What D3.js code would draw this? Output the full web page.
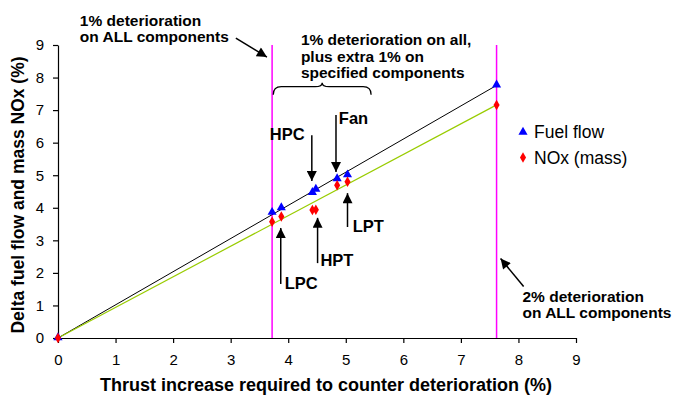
<!DOCTYPE html>
<html>
<head>
<meta charset="utf-8">
<script src="https://cdn.jsdelivr.net/npm/d3@7"></script>
<style>
  body { margin: 0; background: #fff; }
  svg { font-family: Arial, "Liberation Sans", sans-serif; }
</style>
</head>
<body>
<div id="chart"></div>
<script>
// thrust increase (%) for each deterioration case: none, 1% all, LPC, HPC (x2), Fan, LPT, 2% all
var thrust   = [0, 3.72, 3.88, 4.42, 4.48, 4.85, 5.03, 7.62];
var fuelFlow = [0, 3.85, 3.99, 4.46, 4.56, 4.88, 5.00, 7.76];
var noxMass  = [0, 3.57, 3.73, 3.93, 3.94, 4.69, 4.80, 7.16];
var xTicks = [0, 1, 2, 3, 4, 5, 6, 7, 8, 9];
var yTicks = [0, 1, 2, 3, 4, 5, 6, 7, 8, 9];
var deterioration = [3.72, 7.62];
var seriesNames = ['Fuel flow', 'NOx (mass)'];

var width = 676, height = 398;

var svg = d3.select('#chart')
  .append('svg')
  .attr('width', width)
  .attr('height', height);

var x = d3.scaleLinear().domain([0, 9]).range([58, 576]);
var y = d3.scaleLinear().domain([0, 9]).range([338, 45]);

// axes
var xAxis = d3.axisBottom(x).tickValues(xTicks).tickSize(5).tickSizeOuter(0).tickPadding(11);
var yAxis = d3.axisLeft(y).tickValues(yTicks).tickSize(5).tickSizeOuter(0).tickPadding(9);

var hRuler = svg.append('g').attr('transform', 'translate(0,338)').call(xAxis);
var vRuler = svg.append('g').attr('transform', 'translate(58,0)').call(yAxis);

[hRuler, vRuler].forEach(function(g){
  g.selectAll('path, line').attr('stroke', '#000').attr('stroke-width', 1.2);
  g.selectAll('text').attr('font-size', '15px').attr('fill', '#000');
  g.attr('font-family', null);
});

// magenta deterioration markers
svg.append('g')
  .selectAll('line')
  .data(deterioration)
  .enter()
  .append('line')
  .attr('x1', function(d){ return x(d); })
  .attr('x2', function(d){ return x(d); })
  .attr('y1', y(9))
  .attr('y2', y(0))
  .attr('stroke', '#f0f')
  .attr('stroke-width', 1.5);

// straight trend lines from origin to the 2% case
var fuelPts = thrust.map(function(t, i){ return [t, fuelFlow[i]]; });
var noxPts = thrust.map(function(t, i){ return [t, noxMass[i]]; });
var line = d3.line().x(function(d){ return x(d[0]); }).y(function(d){ return y(d[1]); });

svg.append('path')
  .datum([fuelPts[0], fuelPts[fuelPts.length - 1]])
  .attr('d', line)
  .attr('fill', 'none')
  .attr('stroke', '#000')
  .attr('stroke-width', 1);

svg.append('path')
  .datum([noxPts[0], noxPts[noxPts.length - 1]])
  .attr('d', line)
  .attr('fill', 'none')
  .attr('stroke', '#99cc00')
  .attr('stroke-width', 1.2);

var tri = d3.symbol().type(d3.symbolTriangle).size(36);
var dia = d3.symbol().type(d3.symbolDiamond).size(32);

svg.append('g')
  .selectAll('path')
  .data(fuelPts)
  .enter()
  .append('path')
  .attr('d', tri)
  .attr('transform', function(d){ return 'translate(' + x(d[0]) + ',' + (y(d[1]) - 0.5) + ')'; })
  .attr('fill', '#0000ff');

svg.append('g')
  .selectAll('path')
  .data(noxPts)
  .enter()
  .append('path')
  .attr('d', dia)
  .attr('transform', function(d){ return 'translate(' + x(d[0]) + ',' + y(d[1]) + ')'; })
  .attr('fill', '#ff0000');

// legend
var legend = svg.append('g').attr('transform', 'translate(523,132)');
legend.selectAll('path')
  .data(seriesNames)
  .enter()
  .append('path')
  .attr('d', function(d, i){ return i == 0 ? tri() : dia(); })
  .attr('transform', function(d, i){ return 'translate(0,' + (i * 25.5) + ')'; })
  .attr('fill', function(d, i){ return i == 0 ? '#0000ff' : '#ff0000'; });
legend.selectAll('text')
  .data(seriesNames)
  .enter()
  .append('text')
  .attr('x', 11)
  .attr('y', function(d, i){ return i * 25.5 + 6; })
  .attr('font-size', '17.5px')
  .text(function(d){ return d; });

// axis titles
svg.append('text')
  .attr('x', 326)
  .attr('y', 391)
  .attr('text-anchor', 'middle')
  .attr('font-weight', 'bold')
  .attr('font-size', '18px')
  .text('Thrust increase required to counter deterioration (%)');

svg.append('text')
  .attr('transform', 'translate(24,195) rotate(-90)')
  .attr('text-anchor', 'middle')
  .attr('font-weight', 'bold')
  .attr('font-size', '17.5px')
  .text('Delta fuel flow and mass NOx (%)');

// annotations
svg.append('defs').append('marker')
  .attr('id', 'head')
  .attr('viewBox', '0 0 10 10')
  .attr('refX', 10)
  .attr('refY', 5)
  .attr('markerWidth', 12)
  .attr('markerHeight', 10)
  .attr('markerUnits', 'userSpaceOnUse')
  .attr('orient', 'auto')
  .append('path')
  .attr('d', 'M0,0L10,5L0,10Z')
  .attr('fill', '#000');

var arrows = [
  [[3.09, 9.21], [3.63, 8.63]],
  [[4.41, 6.23], [4.41, 4.82]],
  [[4.83, 6.85], [4.83, 5.10]],
  [[5.03, 3.41], [5.03, 4.45]],
  [[4.51, 2.30], [4.51, 3.69]],
  [[3.87, 1.66], [3.87, 3.38]],
  [[8.09, 1.58], [7.69, 2.44]]
];

svg.append('g')
  .selectAll('line')
  .data(arrows)
  .enter()
  .append('line')
  .attr('x1', function(d){ return x(d[0][0]); })
  .attr('y1', function(d){ return y(d[0][1]); })
  .attr('x2', function(d){ return x(d[1][0]); })
  .attr('y2', function(d){ return y(d[1][1]); })
  .attr('stroke', '#000')
  .attr('stroke-width', 1.5)
  .attr('marker-end', 'url(#head)');

var notes = [
  { x: 0.38, y: 9.58, t: '1% deterioration', s: 15.5 },
  { x: 0.38, y: 9.09, t: 'on ALL components', s: 15.5 },
  { x: 4.22, y: 9.00, t: '1% deterioration on all,', s: 15.5 },
  { x: 4.22, y: 8.49, t: 'plus extra 1% on', s: 15.5 },
  { x: 4.22, y: 7.99, t: 'specified components', s: 15.5 },
  { x: 8.07, y: 1.12, t: '2% deterioration', s: 15.5 },
  { x: 8.07, y: 0.62, t: 'on ALL components', s: 15.5 },
  { x: 3.68, y: 6.08, t: 'HPC', s: 16.5 },
  { x: 4.88, y: 6.57, t: 'Fan', s: 16.5 },
  { x: 5.12, y: 3.26, t: 'LPT', s: 16.5 },
  { x: 4.56, y: 2.21, t: 'HPT', s: 16.5 },
  { x: 3.94, y: 1.50, t: 'LPC', s: 16.5 }
];

svg.append('g')
  .selectAll('text')
  .data(notes)
  .enter()
  .append('text')
  .attr('x', function(d){ return x(d.x); })
  .attr('y', function(d){ return y(d.y); })
  .attr('font-weight', 'bold')
  .attr('font-size', function(d){ return d.s + 'px'; })
  .text(function(d){ return d.t; });

// curly brace over the single-component cases
var bx0 = x(3.74), bx1 = x(5.44), bm = (bx0 + bx1) / 2, by = y(7.72);
svg.append('path')
  .attr('d', 'M' + bx0 + ',' + (by + 8) +
    'Q' + bx0 + ',' + by + ' ' + (bx0 + 8) + ',' + by +
    'L' + (bm - 7) + ',' + by +
    'Q' + bm + ',' + by + ' ' + bm + ',' + (by - 4) +
    'Q' + bm + ',' + by + ' ' + (bm + 7) + ',' + by +
    'L' + (bx1 - 8) + ',' + by +
    'Q' + bx1 + ',' + by + ' ' + bx1 + ',' + (by + 8))
  .attr('fill', 'none')
  .attr('stroke', '#000')
  .attr('stroke-width', 1.3);
</script>
</body>
</html>
